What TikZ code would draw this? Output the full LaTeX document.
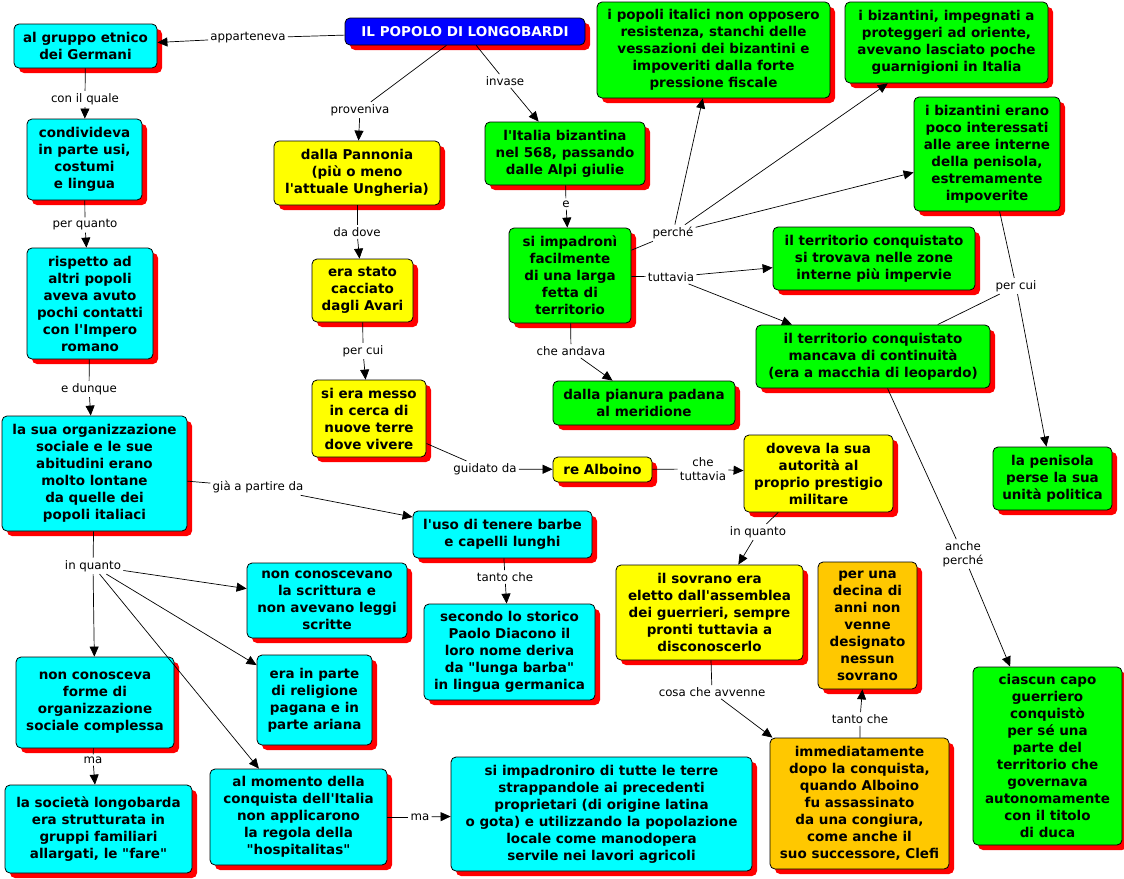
\documentclass[tikz,border=0pt]{standalone}
\usepackage{fontspec}
\setmainfont{DejaVu Sans}[Ligatures=TeXOff]
\usetikzlibrary{arrows.meta,shadows}
\definecolor{mapCyan}{RGB}{0,255,255}
\definecolor{mapYellow}{RGB}{255,255,0}
\definecolor{mapGreen}{RGB}{0,255,0}
\definecolor{mapOrange}{RGB}{255,200,0}
\definecolor{mapBlue}{RGB}{0,0,255}
\definecolor{mapShadow}{RGB}{255,0,0}

\tikzset{
  concetto/.style={draw=black,line width=0.8pt,rounded corners=5pt,align=center,inner sep=2pt,
    font=\bfseries\fontsize{13.5}{17}\selectfont,
    drop shadow={shadow xshift=5pt,shadow yshift=-5pt,fill=mapShadow,opacity=1}},
  legame/.style={inner sep=2pt,align=center,font=\fontsize{11.8}{13.5}\selectfont},
  freccia/.style={-{Triangle[length=10pt,width=9pt]}}
}

\begin{document}
\begin{tikzpicture}[x=1pt,y=-1pt,line width=0.7pt]
            \useasboundingbox[fill=white] (0,0) rectangle (1124,878);
            % Concetti
            \node[concetto,fill=mapBlue,text=white,minimum width=240pt,minimum height=27pt] (pop) at (465,31.5) {IL POPOLO DI LONGOBARDI};

            \node[concetto,fill=mapCyan,minimum width=143pt,minimum height=44pt] (grp) at (85.5,46) {al gruppo etnico\\dei Germani};
            \node[concetto,fill=mapCyan,minimum width=115pt,minimum height=81pt] (cond) at (84.5,159.5) {condivideva\\in parte usi,\\costumi\\e lingua};
            \node[concetto,fill=mapCyan,minimum width=126pt,minimum height=111pt] (risp) at (90,303.5) {rispetto ad\\altri popoli\\aveva avuto\\pochi contatti\\con l'Impero\\romano};
            \node[concetto,fill=mapCyan,minimum width=185pt,minimum height=115pt] (org) at (94.5,473.5) {la sua organizzazione\\sociale e le sue\\abitudini erano\\molto lontane\\da quelle dei\\popoli italiaci};
            \node[concetto,fill=mapCyan,minimum width=160pt,minimum height=75pt] (scr) at (327,600.5) {non conoscevano\\la scrittura e\\non avevano leggi\\scritte};
            \node[concetto,fill=mapCyan,minimum width=115pt,minimum height=90pt] (rel) at (314.5,700) {era in parte\\di religione\\pagana e in\\parte ariana};
            \node[concetto,fill=mapCyan,minimum width=158pt,minimum height=91pt] (forme) at (95,702.5) {non conosceva\\forme di\\organizzazione\\sociale complessa};
            \node[concetto,fill=mapCyan,minimum width=187pt,minimum height=88pt] (soc) at (98.5,829) {la società longobarda\\era strutturata in\\gruppi familiari\\allargati, le "fare"};
            \node[concetto,fill=mapCyan,minimum width=177pt,minimum height=96pt] (mom) at (298.5,817) {al momento della\\conquista dell'Italia\\non applicarono\\la regola della\\"hospitalitas"};
            \node[concetto,fill=mapCyan,minimum width=301pt,minimum height=114pt] (terre) at (601.5,814) {si impadroniro di tutte le terre\\strappandole ai precedenti\\proprietari (di origine latina\\o gota) e utilizzando la popolazione\\locale come manodopera\\servile nei lavori agricoli};
            \node[concetto,fill=mapCyan,minimum width=179pt,minimum height=47pt] (barbe) at (502.5,534.5) {l'uso di tenere barbe\\e capelli lunghi};
            \node[concetto,fill=mapCyan,minimum width=171pt,minimum height=96pt] (stor) at (509.5,652) {secondo lo storico\\Paolo Diacono il\\loro nome deriva\\da "lunga barba"\\in lingua germanica};

            \node[concetto,fill=mapYellow,minimum width=166pt,minimum height=64pt] (pann) at (357,173) {dalla Pannonia\\(più o meno\\l'attuale Ungheria)};
            \node[concetto,fill=mapYellow,minimum width=101pt,minimum height=63pt] (avari) at (362.5,290.5) {era stato\\cacciato\\dagli Avari};
            \node[concetto,fill=mapYellow,minimum width=114pt,minimum height=77pt] (terre2) at (369,418.5) {si era messo\\in cerca di\\nuove terre\\dove vivere};
            \node[concetto,fill=mapYellow,minimum width=99pt,minimum height=25pt] (alb) at (602.5,469.5) {re Alboino};
            \node[concetto,fill=mapYellow,minimum width=149pt,minimum height=77pt] (aut) at (818.5,473.5) {doveva la sua\\autorità al\\proprio prestigio\\militare};
            \node[concetto,fill=mapYellow,minimum width=187pt,minimum height=95pt] (sov) at (709.5,612.5) {il sovrano era\\eletto dall'assemblea\\dei guerrieri, sempre\\pronti tuttavia a\\disconoscerlo};

            \node[concetto,fill=mapOrange,minimum width=99pt,minimum height=127pt] (dec) at (867.5,625.5) {per una\\decina di\\anni non\\venne\\designato\\nessun\\sovrano};
            \node[concetto,fill=mapOrange,minimum width=179pt,minimum height=131pt] (imm) at (859.5,803.5) {immediatamente\\dopo la conquista,\\quando Alboino\\fu assassinato\\da una congiura,\\come anche il\\suo successore, Clefi};

            \node[concetto,fill=mapGreen,minimum width=160pt,minimum height=63pt] (ita) at (565,153.5) {l'Italia bizantina\\nel 568, passando\\dalle Alpi giulie};
            \node[concetto,fill=mapGreen,minimum width=122pt,minimum height=95pt] (fetta) at (570,275.5) {si impadronì\\facilmente\\di una larga\\fetta di\\territorio};
            \node[concetto,fill=mapGreen,minimum width=182pt,minimum height=44pt] (pad) at (644,403) {dalla pianura padana\\al meridione};
            \node[concetto,fill=mapGreen,minimum width=233pt,minimum height=96pt] (res) at (713.5,50) {i popoli italici non opposero\\resistenza, stanchi delle\\vessazioni dei bizantini e\\impoveriti dalla forte\\pressione fiscale};
            \node[concetto,fill=mapGreen,minimum width=203pt,minimum height=81pt] (guarn) at (946.5,42.5) {i bizantini, impegnati a\\proteggeri ad oriente,\\avevano lasciato poche\\guarnigioni in Italia};
            \node[concetto,fill=mapGreen,minimum width=146pt,minimum height=114pt] (aree) at (987,154) {i bizantini erano\\poco interessati\\alle aree interne\\della penisola,\\estremamente\\impoverite};
            \node[concetto,fill=mapGreen,minimum width=202pt,minimum height=63pt] (zone) at (874,258.5) {il territorio conquistato\\si trovava nelle zone\\interne più impervie};
            \node[concetto,fill=mapGreen,minimum width=234pt,minimum height=63pt] (cont) at (873,356.5) {il territorio conquistato\\mancava di continuità\\(era a macchia di leopardo)};
            \node[concetto,fill=mapGreen,minimum width=119pt,minimum height=63pt] (pen) at (1052.5,478.5) {la penisola\\perse la sua\\unità politica};
            \node[concetto,fill=mapGreen,minimum width=149pt,minimum height=178pt] (duca) at (1047.5,756) {ciascun capo\\guerriero\\conquistò\\per sé una\\parte del\\territorio che\\governava\\autonomamente\\con il titolo\\di duca};

            % Legami
            \node[legame] (lapp) at (248,38) {apparteneva};
            \node[legame] (lqua) at (85,99) {con il quale};
            \node[legame] (lpq) at (85,225) {per quanto};
            \node[legame] (ldun) at (89,389) {e dunque};
            \node[legame] (lprov) at (360,110) {proveniva};
            \node[legame] (linv) at (505,81) {invase};
            \node[legame] (ldove) at (357,232) {da dove};
            \node[legame] (lcui) at (363,351) {per cui};
            \node[legame] (lguid) at (485,469) {guidato da};
            \node[legame] (ltutt) at (703,469) {che\\tuttavia};
            \node[legame] (liq) at (758,532) {in quanto};
            \node[legame] (lavv) at (712,692) {cosa che avvenne};
            \node[legame] (ltc) at (860,719) {tanto che};
            \node[legame] (le) at (566,204) {e};
            \node[legame] (lperc) at (673,233) {perché};
            \node[legame] (ltv) at (671,277) {tuttavia};
            \node[legame] (land) at (571,351) {che andava};
            \node[legame] (lcui2) at (1016,286) {per cui};
            \node[legame] (lanche) at (963,554) {anche\\perché};
            \node[legame] (lgia) at (258,487) {già a partire da};
            \node[legame] (ltc2) at (505,577) {tanto che};
            \node[legame] (liq2) at (93,566) {in quanto};
            \node[legame] (lma) at (93,760) {ma};
            \node[legame] (lma2) at (420,817) {ma};

            \draw (pop) -- (lapp);   \draw[freccia] (lapp) -- (grp);
            \draw (grp) -- (lqua);   \draw[freccia] (lqua) -- (cond);
            \draw (cond) -- (lpq);   \draw[freccia] (lpq) -- (risp);
            \draw (risp) -- (ldun);  \draw[freccia] (ldun) -- (org);
            \draw (pop) -- (lprov);  \draw[freccia] (lprov) -- (pann);
            \draw (pop) -- (linv);   \draw[freccia] (linv) -- (ita);
            \draw (pann) -- (ldove); \draw[freccia] (ldove) -- (avari);
            \draw (avari) -- (lcui); \draw[freccia] (lcui) -- (terre2);
            \draw (terre2) -- (lguid); \draw[freccia] (lguid) -- (alb);
            \draw (alb) -- (ltutt);  \draw[freccia] (ltutt) -- (aut);
            \draw (aut) -- (liq);    \draw[freccia] (liq) -- (sov);
            \draw (sov) -- (lavv);   \draw[freccia] (lavv) -- (imm);
            \draw (imm) -- (ltc);    \draw[freccia] (ltc) -- (dec);
            \draw (ita) -- (le);     \draw[freccia] (le) -- (fetta);
            \draw (fetta) -- (lperc);
            \draw[freccia] (lperc) -- (res);
            \draw[freccia] (lperc) -- (guarn);
            \draw[freccia] (lperc) -- (aree);
            \draw (fetta) -- (ltv);
            \draw[freccia] (ltv) -- (zone);
            \draw[freccia] (ltv) -- (cont);
            \draw (fetta) -- (land); \draw[freccia] (land) -- (pad);
            \draw (aree) -- (lcui2);
            \draw (cont) -- (lcui2);
            \draw[freccia] (lcui2) -- (pen);
            \draw (cont) -- (lanche); \draw[freccia] (lanche) -- (duca);
            \draw (org) -- (lgia);   \draw[freccia] (lgia) -- (barbe);
            \draw (barbe) -- (ltc2); \draw[freccia] (ltc2) -- (stor);
            \draw (org) -- (liq2);
            \draw[freccia] (liq2) -- (scr);
            \draw[freccia] (liq2) -- (rel);
            \draw[freccia] (liq2) -- (forme);
            \draw[freccia] (liq2) -- (mom);
            \draw (forme) -- (lma);  \draw[freccia] (lma) -- (soc);
            \draw (mom) -- (lma2);   \draw[freccia] (lma2) -- (terre);
\end{tikzpicture}
\end{document}
